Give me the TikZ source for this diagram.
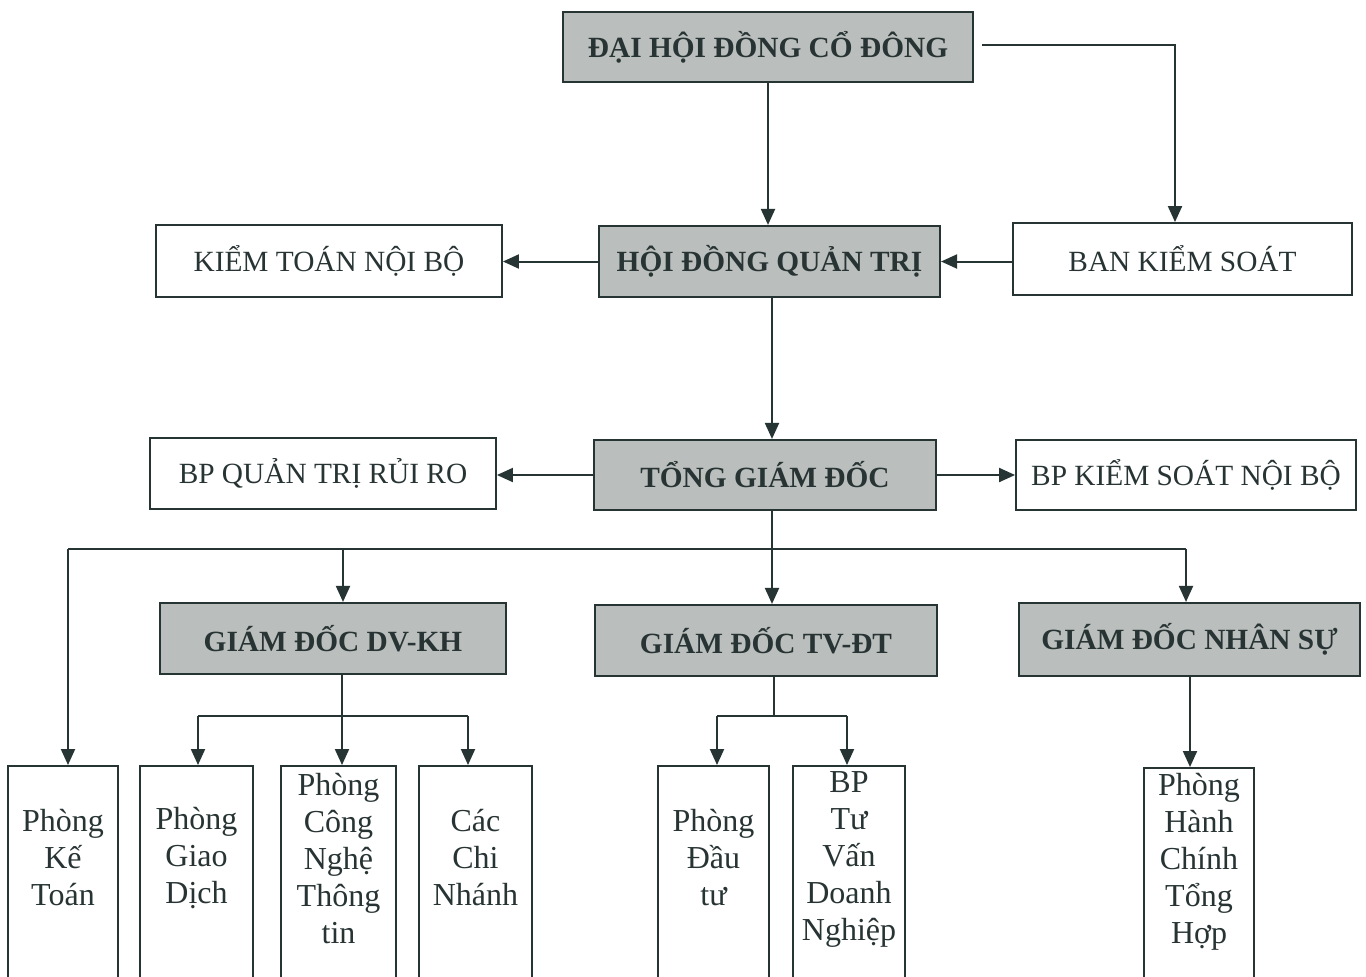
\documentclass[tikz,border=0pt]{standalone}
\usepackage{fontspec}
\setmainfont{Liberation Serif}
\usetikzlibrary{arrows.meta,calc}
\newcommand\pxu{0.75pt}
\definecolor{inkc}{RGB}{38,52,52}
\definecolor{txtc}{RGB}{40,52,52}
\definecolor{boxgray}{RGB}{186,190,188}
\tikzset{
  head/.style={draw=inkc, line width=1.6pt, fill=boxgray, text=txtc, inner sep=0pt,
    font=\bfseries\fontsize{22}{26}\selectfont},
  plain/.style={draw=inkc, line width=1.4pt, fill=white, text=txtc, inner sep=0pt,
    font=\fontsize{22}{26}\selectfont},
  leafbox/.style={draw=inkc, line width=1.4pt, inner sep=0pt, anchor=north,
    minimum height=260*\pxu},
  leaftext/.style={text=txtc, inner sep=0pt, align=center,
    font=\fontsize{24}{27.75}\selectfont},
  conn/.style={draw=inkc, line width=1.5pt},
  arr/.style={conn, -{Triangle[length=12pt,width=10.5pt]}},
}
\begin{document}
\begin{tikzpicture}[x=0.75pt,y=-0.75pt]
\useasboundingbox (0,0) rectangle (1366,976);
\clip (0,0) rectangle (1366,976);
\fill[white] (0,0) rectangle (1366,976);

% top levels
\node[head, minimum width=410*\pxu, minimum height=70*\pxu] (dhdcd) at (768,47) {ĐẠI HỘI ĐỒNG CỔ ĐÔNG};
\node[head, minimum width=341*\pxu, minimum height=71*\pxu] (hdqt) at (769.5,261.5) {HỘI ĐỒNG QUẢN TRỊ};
\node[plain, minimum width=346*\pxu, minimum height=72*\pxu] (ktnb) at (329,261) {KIỂM TOÁN NỘI BỘ};
\node[plain, minimum width=339*\pxu, minimum height=72*\pxu] (bks) at (1182.5,259) {BAN KIỂM SOÁT};
\node[head, minimum width=342*\pxu, minimum height=70*\pxu] (tgd) at (765,475) {TỔNG GIÁM ĐỐC};
\node[plain, minimum width=346*\pxu, minimum height=71*\pxu] (qtrr) at (323,473.5) {BP QUẢN TRỊ RỦI RO};
\node[plain, minimum width=340*\pxu, minimum height=70*\pxu] (ksnb) at (1186,475) {BP KIỂM SOÁT NỘI BỘ};
\node[head, minimum width=346*\pxu, minimum height=71*\pxu] (dvkh) at (333,638.5) {GIÁM ĐỐC DV-KH};
\node[head, minimum width=342*\pxu, minimum height=71*\pxu] (tvdt) at (766,640.5) {GIÁM ĐỐC TV-ĐT};
\node[head, minimum width=341*\pxu, minimum height=73*\pxu] (ns) at (1189.5,639.5) {GIÁM ĐỐC NHÂN SỰ};

% bottom boxes (run off the page bottom)
\node[leafbox, minimum width=110*\pxu] (kt) at (63,765) {};
\node[leafbox, minimum width=113*\pxu] (gd) at (196.5,765) {};
\node[leafbox, minimum width=115*\pxu] (cntt) at (338.5,765) {};
\node[leafbox, minimum width=113*\pxu] (cn) at (475.5,765) {};
\node[leafbox, minimum width=111*\pxu] (dt) at (713.5,765) {};
\node[leafbox, minimum width=112*\pxu] (tv) at (849,765) {};
\node[leafbox, minimum width=110*\pxu] (hcth) at (1199,767) {};

\node[leaftext] (ktT) at (63,858) {Phòng\\Kế\\Toán};
\node[leaftext] (gdT) at (196.5,858) {Phòng\\Giao\\Dịch};
\node[leaftext] (cnttT) at (338.5,859) {Phòng\\Công\\Nghệ\\Thông\\tin};
\node[leaftext] (cnT) at (475.5,858) {Các\\Chi\\Nhánh};
\node[leaftext] (dtT) at (713.5,858) {Phòng\\Đầu\\tư};
\node[leaftext] (tvT) at (849,859) {BP\\Tư\\Vấn\\Doanh\\Nghiệp};
\node[leaftext] (hcthT) at (1199,862) {Phòng\\Hành\\Chính\\Tổng\\Hợp};

% helper coordinates
\coordinate (dStart) at (982,45);
\coordinate (bksIn) at (1175,0);
\coordinate (busL) at (68,549);
\coordinate (busM) at (343,549);
\coordinate (busR) at (1186,549);
\coordinate (dvDown) at (342,0);
\coordinate (busDL) at (198,716);
\coordinate (busDR) at (468,716);
\coordinate (tvDown) at (774,716);
\coordinate (busTL) at (717,716);
\coordinate (busTR) at (847,716);
\coordinate (tgdDown) at (772,0);
\coordinate (nsDown) at (1190,0);

% connectors
\draw[arr] (dhdcd.south) -- (dhdcd.south |- hdqt.north);
\draw[arr] (dStart) -| (bksIn |- bks.north);
\draw[arr] (hdqt.west) -- (hdqt.west -| ktnb.east);
\draw[arr] (bks.west |- hdqt.east) -- (hdqt.east);
\draw[arr] (tgdDown |- hdqt.south) -- (tgdDown |- tgd.north);
\draw[arr] (tgd.west) -- (tgd.west -| qtrr.east);
\draw[arr] (tgd.east) -- (tgd.east -| ksnb.west);

\draw[arr] (tgdDown |- tgd.south) -- (tgdDown |- tvdt.north);
\draw[conn] (busL) -- (busR);
\draw[arr] (busL) -- (busL |- kt.north);
\draw[arr] (busM) -- (busM |- dvkh.north);
\draw[arr] (busR) -- (busR |- ns.north);

\draw[arr] (dvDown |- dvkh.south) -- (dvDown |- cntt.north);
\draw[conn] (busDL) -- (busDR);
\draw[arr] (busDL) -- (busDL |- gd.north);
\draw[arr] (busDR) -- (busDR |- cn.north);

\draw[conn] (tvDown |- tvdt.south) -- (tvDown);
\draw[conn] (busTL) -- (busTR);
\draw[arr] (busTL) -- (busTL |- dt.north);
\draw[arr] (busTR) -- (busTR |- tv.north);

\draw[arr] (nsDown |- ns.south) -- (nsDown |- hcth.north);
\end{tikzpicture}
\end{document}
